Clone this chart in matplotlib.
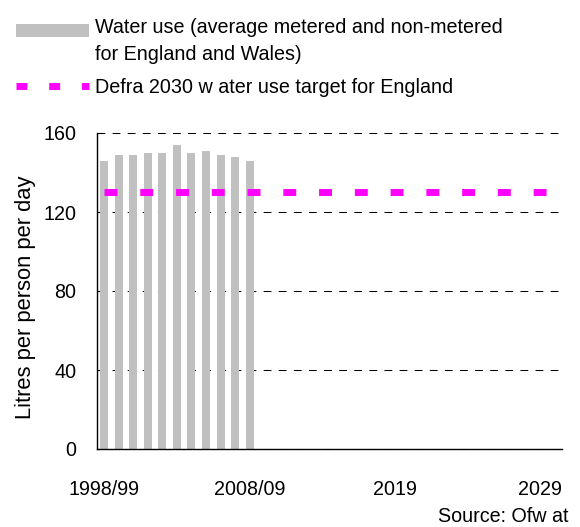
import matplotlib
matplotlib.use("Agg")
import matplotlib.pyplot as plt
from matplotlib.lines import Line2D
from matplotlib.patches import Patch, Rectangle
from matplotlib.legend_handler import HandlerPatch
import numpy as np

plt.rcParams['font.family'] = ['Liberation Sans', 'DejaVu Sans']

# ---- data ----
first_years = list(range(1998, 2030))
categories = [f"{y}/{str(y + 1)[-2:]}" for y in first_years]   # 1998/99 ... 2029/30
water_use = [146, 149, 149, 150, 150, 154, 150, 151, 149, 148, 146]  # 1998/99 - 2008/09
target_value = 130
tick_positions = [0, 10, 20, 30]
tick_labels = ["1998/99", "2008/09", "2019", "2029"]

bar_label = "Water use (average metered and non-metered\nfor England and Wales)"
line_label = "Defra 2030 w ater use target for England"
y_label = "Litres per person per day"
source_text = "Source: Ofw at"
y_ticks = [0, 40, 80, 120, 160]

FS = 14.2

# ---- figure ----
W, H = 580, 527
fig = plt.figure(figsize=(W / 100, H / 100), dpi=100)
ax = fig.add_axes([97 / W, 1 - 449 / H, (562 - 97) / W, (449 - 133) / H])

x = np.arange(len(categories))
bar_vals = water_use + [np.nan] * (len(categories) - len(water_use))
ax.bar(x, bar_vals, width=0.55, color="#C0C0C0", zorder=2)
ax.plot(x, [target_value] * len(categories), color="#FF00FF", linewidth=5.0,
        linestyle=(0, (1.86, 3.29)), solid_capstyle="butt", zorder=3)

ax.set_xlim(-0.5, len(categories) - 0.5)
ax.set_ylim(0, 160)
ax.set_yticks(y_ticks)
ax.set_xticks(tick_positions)
ax.set_xticklabels(tick_labels)
ax.tick_params(axis="both", labelsize=FS)
ax.tick_params(axis="x", length=0, pad=22)
ax.tick_params(axis="y", direction="in", length=3, width=0.8, pad=15)
ax.yaxis.grid(True, color="black", linewidth=0.75, linestyle=(0, (7.5, 7)), zorder=0)
ax.set_axisbelow(True)
for s in ["top", "right"]:
    ax.spines[s].set_visible(False)
for s in ["left", "bottom"]:
    ax.spines[s].set_linewidth(1.0)
    ax.spines[s].set_color("black")

ax.set_ylabel(y_label, fontsize=15.8)
ax.yaxis.set_label_coords(-(97 - 36) / (562 - 97), (449 - 297) / (449 - 133))


# ---- legend ----
def top_rect(legend, orig_handle, xdescent, ydescent, width, height, fontsize):
    h = 0.68 * fontsize
    return Rectangle((-xdescent, -ydescent + height + 0.55 * fontsize - h), width, h)


h_bar = Patch(facecolor="#C0C0C0", edgecolor="none")
h_line = Line2D([], [], color="#FF00FF", linewidth=5.0, linestyle=(0, (1.57, 3.14)),
                solid_capstyle="butt")
leg = fig.legend([h_bar, h_line], [bar_label, line_label], loc="upper left",
                 bbox_to_anchor=(12 / W, 1 - 14 / H), frameon=False, fontsize=FS,
                 handlelength=3.7, handletextpad=0.3, labelspacing=0.72,
                 borderpad=0.2, borderaxespad=0,
                 handler_map={Patch: HandlerPatch(patch_func=top_rect)})
leg.get_texts()[0].set_linespacing(1.52)

fig.text(569 / W, 1 - 517 / H, source_text, ha="right", va="center", fontsize=FS)

fig.savefig("out.png", dpi=100)
